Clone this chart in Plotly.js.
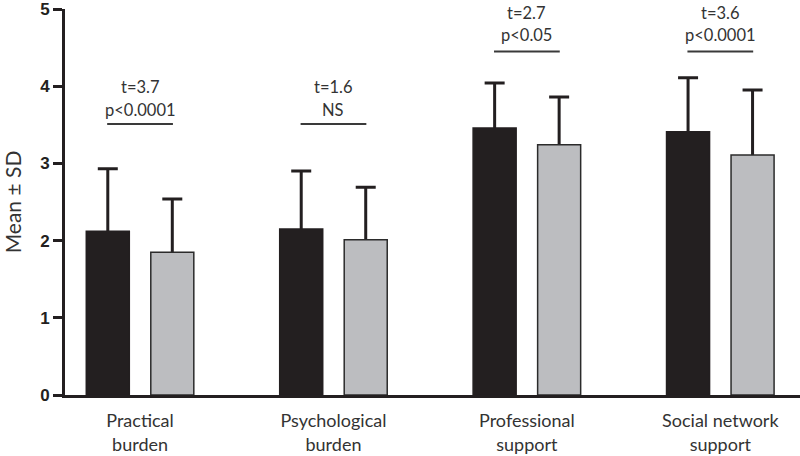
<!DOCTYPE html>
<html>
<head>
<meta charset="utf-8">
<script src="https://cdn.plot.ly/plotly-3.0.1.min.js"></script>
<style>html,body{margin:0;padding:0;background:#fff;}#chart{width:800px;height:456px;}</style>
</head>
<body>
<div id="chart"></div>
<script>
// Data
const categories = ["Practical burden", "Psychological burden", "Professional support", "Social network support"];
const tickLabels = ["Practical<br>burden", "Psychological<br>burden", "Professional<br>support", "Social network<br>support"];
const blackMeans = [2.12, 2.15, 3.46, 3.41];
const blackSD    = [0.81, 0.75, 0.58, 0.70];
const greyMeans  = [1.85, 2.01, 3.24, 3.11];
const greySD     = [0.69, 0.68, 0.62, 0.84];
const tStats     = ["t=3.7", "t=1.6", "t=2.7", "t=3.6"];
const pStats     = ["p<0.0001", "NS", "p<0.05", "p<0.0001"];
const sigLevels  = [3.51, 3.51, 4.45, 4.45];
const yTicks     = [0, 1, 2, 3, 4, 5];

const ink = "#231f20";
const textCol = "#333333";
const clear = "rgba(0,0,0,0)";

function errTrace(means, sds, group) {
  // transparent bar carrying the error bar; the opaque bar drawn later hides the lower half
  return {
    type: "bar", x: categories, y: means, offsetgroup: group, hoverinfo: "skip",
    marker: {color: clear, line: {color: clear, width: 0}},
    error_y: {type: "data", array: sds, color: ink, thickness: 3, width: 10}
  };
}

const traces = [
  errTrace(blackMeans, blackSD, "g1"),
  errTrace(greyMeans, greySD, "g2"),
  {
    type: "bar", x: categories, y: blackMeans, name: "Group 1", offsetgroup: "g1",
    marker: {color: ink, line: {color: ink, width: 1.5}}
  },
  {
    type: "bar", x: categories, y: greyMeans, name: "Group 2", offsetgroup: "g2",
    marker: {color: "#bcbdc0", line: {color: "#2b2b2b", width: 1.5}}
  }
];

const shapes = categories.map((c, i) => ({
  type: "line", xref: "x", yref: "y",
  x0: i - 0.17, x1: i + 0.17, y0: sigLevels[i], y1: sigLevels[i],
  line: {color: "#3a3a3a", width: 2}
}));

const annotations = [];
categories.forEach((c, i) => {
  const hi = sigLevels[i] > 4;
  annotations.push({x: i, y: sigLevels[i] + (hi ? 0.5 : 0.48), xref: "x", yref: "y", text: tStats[i],
    showarrow: false, yanchor: "middle", font: {family: "Lato", size: 16.5, color: textCol}});
  annotations.push({x: i, y: sigLevels[i] + (hi ? 0.21 : 0.18), xref: "x", yref: "y", text: pStats[i],
    showarrow: false, yanchor: "middle", font: {family: "Lato", size: 16.5, color: textCol}});
});

const layout = {
  width: 800, height: 456,
  margin: {l: 65, r: 0, t: 9, b: 61},
  paper_bgcolor: "#ffffff", plot_bgcolor: "#ffffff",
  showlegend: false,
  barmode: "group", bargap: 0.333, bargroupgap: 0.333,
  xaxis: {
    type: "category", range: [-0.388, 3.412],
    tickvals: categories, ticktext: tickLabels,
    showline: true, linecolor: ink, linewidth: 2.5,
    ticks: "", showgrid: false, zeroline: false,
    tickfont: {family: "Lato", size: 18, color: textCol},
    ticklabelstandoff: 8
  },
  yaxis: {
    range: [0, 5], tickvals: yTicks,
    showline: true, linecolor: ink, linewidth: 3,
    ticks: "outside", ticklen: 9, tickwidth: 3, tickcolor: ink,
    showgrid: false, zeroline: false, ticklabeloverflow: "allow",
    tickfont: {family: "Liberation Sans", size: 17, color: ink, weight: "bold"},
    title: {text: "Mean ± SD", font: {family: "Lato", size: 21, color: textCol}, standoff: 17}
  },
  shapes: shapes,
  annotations: annotations
};

Plotly.newPlot("chart", traces, layout, {staticPlot: true, displayModeBar: false});
</script>
</body>
</html>
